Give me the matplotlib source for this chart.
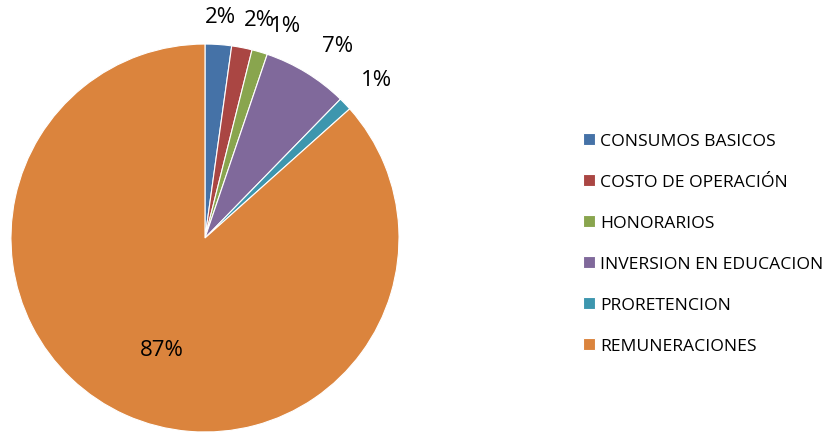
import numpy as np
import matplotlib
matplotlib.use("Agg")
import matplotlib.pyplot as plt

# gastos por categoría (% del total)
categorias = ["CONSUMOS BASICOS", "COSTO DE OPERACIÓN", "HONORARIOS",
              "INVERSION EN EDUCACION", "PRORETENCION", "REMUNERACIONES"]
valores = [2.2, 1.7, 1.3, 7.1, 1.1, 86.6]
colores = ["#4572A7", "#AA4643", "#89A54E", "#80699B", "#3D96AE", "#DB843D"]

plt.rcParams['font.family'] = ['Open Sans', 'DejaVu Sans']

fig = plt.figure(figsize=(8.37, 4.33), dpi=100)
ax = fig.add_axes([0.0131, 0.0023, 0.4636, 0.896])

wedges, _ = ax.pie(valores, colors=colores, startangle=90, counterclock=False,
                   radius=1, wedgeprops=dict(edgecolor="white", linewidth=0.8))
ax.set_xlim(-1, 1)
ax.set_ylim(-1, 1)
ax.set_aspect("auto")
ax.axis("off")

# etiquetas de porcentaje: distancia radial y giro extra por porción
dist = [1.137, 1.153, 1.168, 1.20, 1.20, 0.623]
giro = [0, 3, 4.3, 3.1, 1.3, -3.2]
total = sum(valores)
acum = 0
for v, d, g in zip(valores, dist, giro):
    medio = (acum + v / 2) / total * 360 + g
    acum += v
    ang = np.deg2rad(90 - medio)
    ax.text(d * np.cos(ang), d * np.sin(ang), f"{v / total * 100:.0f}%",
            ha="center", va="center", fontsize=16, color="black")

fig.legend(wedges, categorias, loc="center left",
           bbox_to_anchor=(567 / 837, 0.4365), frameon=False,
           fontsize=12.6, handlelength=0.68, handleheight=0.68,
           handletextpad=0.3, labelspacing=1.42)

fig.savefig("out.png", dpi=100)
